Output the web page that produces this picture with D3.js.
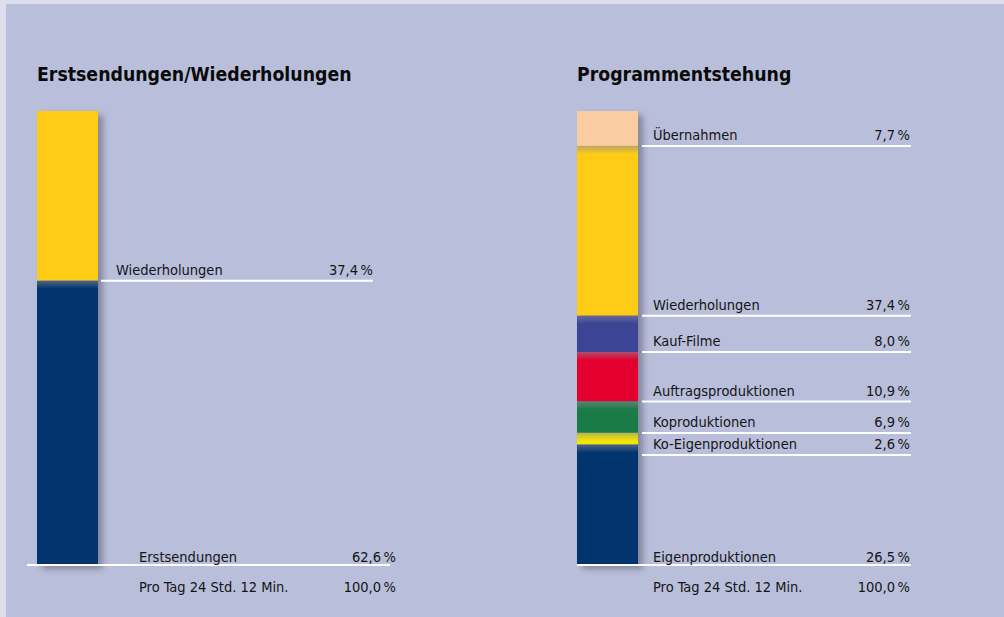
<!DOCTYPE html>
<html>
<head>
<meta charset="utf-8">
<script src="https://cdn.jsdelivr.net/npm/d3@7"></script>
<style>
  body { margin: 0; background: #dcdeee; }
  svg { display: block; }
  .title { font-family: "DejaVu Sans Condensed", "DejaVu Sans", sans-serif; font-stretch: condensed; font-weight: bold; font-size: 19.3px; fill: #0a0a0a; }
  .lbl { font-family: "DejaVu Sans Condensed", "DejaVu Sans", sans-serif; font-stretch: condensed; font-size: 14.5px; fill: #141414; }
</style>
</head>
<body>
<svg id="chart"></svg>
<script>
// Data
const leftTitle = "Erstsendungen/Wiederholungen";
const leftCats = ["Wiederholungen", "Erstsendungen"];
const leftVals = [37.4, 62.6];
const leftColors = ["#fecb17", "#02356e"];

const rightTitle = "Programmentstehung";
const rightCats = ["Übernahmen", "Wiederholungen", "Kauf-Filme", "Auftragsproduktionen",
                   "Koproduktionen", "Ko-Eigenproduktionen", "Eigenproduktionen"];
const rightVals = [7.7, 37.4, 8.0, 10.9, 6.9, 2.6, 26.5];
const rightColors = ["#f9cda1", "#fecb17", "#3c4496", "#e3002f", "#1b7b47", "#f3e600", "#02356e"];

const totalLabel = "Pro Tag 24 Std. 12 Min.";
const totalValue = 100.0;

// Setup
const width = 1004, height = 617;
const svg = d3.select("#chart").attr("width", width).attr("height", height);

const de = d3.formatLocale({ decimal: ",", thousands: ".", grouping: [3], currency: ["", " €"] });
const fmt = v => de.format(".1f")(v) + "\u2009%";

const y = d3.scaleLinear().domain([0, 100]).range([111, 565]);

// panel background
svg.append("rect").attr("x", 6).attr("y", 4).attr("width", width - 6).attr("height", height - 4)
  .attr("fill", "#b9bfdb");

const defs = svg.append("defs");
defs.append("filter").attr("id", "shadow").attr("x", "-20%").attr("y", "-5%").attr("width", "150%").attr("height", "115%")
  .append("feGaussianBlur").attr("stdDeviation", 3);
const grad = defs.append("linearGradient").attr("id", "edge").attr("x1", 0).attr("y1", 0).attr("x2", 0).attr("y2", 1);
grad.append("stop").attr("offset", "0%").attr("stop-color", "#8a8a9a").attr("stop-opacity", 0.55);
grad.append("stop").attr("offset", "100%").attr("stop-color", "#8a8a9a").attr("stop-opacity", 0);

function drawPanel(cfg) {
  const g = svg.append("g");
  const cum = d3.cumsum(cfg.vals);
  const segs = cfg.cats.map((c, i) => ({
    cat: c, val: cfg.vals[i], color: cfg.colors[i],
    y0: y(i ? cum[i - 1] : 0), y1: y(cum[i])
  }));

  g.append("text").attr("class", "title").attr("x", cfg.x).attr("y", 81).text(cfg.title);

  // shadow
  g.append("rect").attr("x", cfg.x + 5).attr("y", y(0) + 4).attr("width", cfg.barW).attr("height", y(100) - y(0))
    .attr("fill", "#55576a").attr("opacity", 0.55).attr("filter", "url(#shadow)");

  g.selectAll("rect.seg").data(segs).enter().append("rect").attr("class", "seg")
    .attr("x", cfg.x).attr("y", d => d.y0).attr("width", cfg.barW).attr("height", d => d.y1 - d.y0)
    .attr("fill", d => d.color);

  // soft edge at top of each lower segment
  g.selectAll("rect.edge").data(segs.slice(1)).enter().append("rect").attr("class", "edge")
    .attr("x", cfg.x).attr("y", d => d.y0).attr("width", cfg.barW).attr("height", d => Math.min(8, d.y1 - d.y0))
    .attr("fill", "url(#edge)");

  // label lines, pushed apart when segments are thin
  let prev = -Infinity;
  segs.forEach(d => { d.ly = Math.max(d.y1, prev + 22); prev = d.ly; });

  const last = segs.length - 1;
  const lab = g.selectAll("g.lab").data(segs).enter().append("g").attr("class", "lab");
  lab.append("line")
    .attr("x1", (d, i) => i === last ? cfg.lastLineX1 : cfg.lineX1)
    .attr("x2", (d, i) => i === last ? cfg.lastLineX2 : cfg.lineX2)
    .attr("y1", d => d.ly).attr("y2", d => d.ly)
    .attr("stroke", "#fff").attr("stroke-width", 2);
  lab.append("text").attr("class", "lbl")
    .attr("x", (d, i) => i === last ? cfg.lastTextX : cfg.textX)
    .attr("y", (d, i) => d.ly - (i === last ? 3 : 6))
    .text(d => d.cat);
  lab.append("text").attr("class", "lbl").attr("text-anchor", "end")
    .attr("x", (d, i) => i === last ? cfg.lastValX : cfg.valX)
    .attr("y", (d, i) => d.ly - (i === last ? 3 : 6))
    .text(d => fmt(d.val));

  g.append("text").attr("class", "lbl").attr("x", cfg.lastTextX).attr("y", 592).text(totalLabel);
  g.append("text").attr("class", "lbl").attr("text-anchor", "end").attr("x", cfg.lastValX).attr("y", 592)
    .text(fmt(totalValue));
}

drawPanel({
  title: leftTitle, cats: leftCats, vals: leftVals, colors: leftColors,
  x: 37, barW: 61,
  lineX1: 101, lineX2: 373, textX: 116, valX: 373,
  lastLineX1: 27, lastLineX2: 390, lastTextX: 139, lastValX: 396
});

drawPanel({
  title: rightTitle, cats: rightCats, vals: rightVals, colors: rightColors,
  x: 577, barW: 61,
  lineX1: 642, lineX2: 911, textX: 653, valX: 910,
  lastLineX1: 577, lastLineX2: 911, lastTextX: 653, lastValX: 910
});
</script>
</body>
</html>
